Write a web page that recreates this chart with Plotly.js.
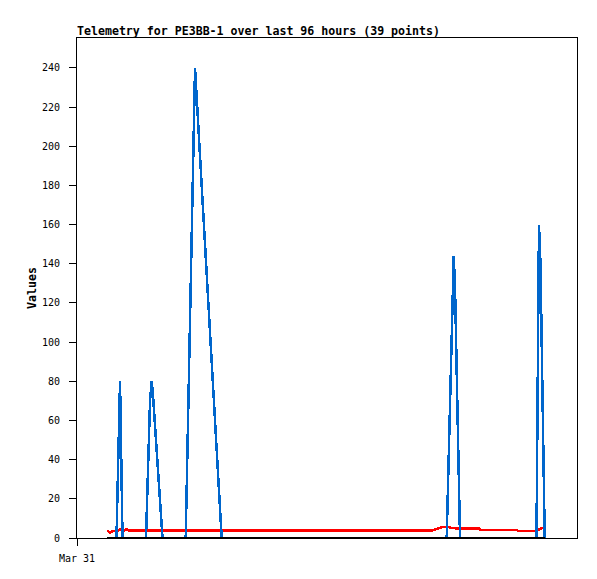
<!DOCTYPE html>
<html>
<head>
<meta charset="utf-8">
<script src="https://cdn.plot.ly/plotly-3.0.1.min.js"></script>
<style>
html, body { margin: 0; padding: 0; background: #fff; }
#chart { width: 597px; height: 579px; }
.scatterlayer path { shape-rendering: crispEdges; }
</style>
</head>
<body>
<div id="chart"></div>
<script>
// Hours since Mar 31 00:00
const blueHours = [5.76, 7.58, 8.26, 8.74, 13.25, 14.02, 14.34, 14.59, 16.42, 20.87, 22.66, 27.78, 70.98, 72.33, 72.58, 73.54, 88.22, 88.70, 88.99, 89.72, 89.80];
const blueValues = [0, 0, 80, 0, 0, 70, 80, 73, 0, 0, 240, 0, 0, 144, 128, 0, 0, 160, 140, 20, 0];

const redHours = [5.82, 6.34, 6.91, 7.87, 8.45, 9.02, 9.60, 9.98, 68.16, 68.93, 69.89, 71.04, 72.00, 77.18, 77.38, 84.48, 84.67, 88.32, 88.90, 89.47];
const redValues = [3.7, 2.7, 3.6, 3.8, 4.6, 3.8, 4.6, 3.8, 3.8, 4.6, 5.4, 5.8, 5.0, 4.8, 4.2, 4.2, 3.7, 3.7, 4.6, 5.4];

const blackHours = [5.76, 89.86];
const blackValues = [0, 0];

const xTickVals = [0];
const xTickText = ['Mar 31'];

const titleText = 'Telemetry for PE3BB-1 over last 96 hours (39 points)';
const yTitleText = 'Values';

const mono = 'DejaVu Sans Mono, Liberation Mono, monospace';

const traces = [
  { x: redHours, y: redValues, type: 'scatter', mode: 'lines', line: { color: '#ff0000', width: 2.5, shape: 'linear' }, hoverinfo: 'skip' },
  { x: blueHours, y: blueValues, type: 'scatter', mode: 'lines', line: { color: '#0066cc', width: 2.5, shape: 'linear' }, hoverinfo: 'skip' },
  { x: blackHours, y: blackValues, type: 'scatter', mode: 'lines', line: { color: '#000000', width: 3 }, hoverinfo: 'skip' }
];

const layout = {
  width: 597,
  height: 579,
  margin: { l: 77, r: 20, t: 38, b: 41, pad: 0 },
  paper_bgcolor: '#ffffff',
  plot_bgcolor: '#ffffff',
  showlegend: false,
  font: { family: mono, size: 10, color: '#000' },
  title: {
    text: '<b>' + titleText + '</b>',
    font: { family: mono, size: 11.6, color: '#000' },
    xref: 'paper', x: 0, xanchor: 'left',
    yref: 'container', y: 1 - 31 / 579, yanchor: 'middle'
  },
  xaxis: {
    range: [0, 96],
    tickmode: 'array',
    tickvals: xTickVals,
    ticktext: xTickText,
    ticks: 'outside', ticklen: 7, tickwidth: 1, tickcolor: '#000',
    ticklabelstandoff: 4,
    showline: true, linecolor: '#000', linewidth: 1, mirror: true,
    showgrid: false, zeroline: false,
    tickfont: { family: mono, size: 10, color: '#000' }
  },
  yaxis: {
    range: [0, 255.3],
    tick0: 0, dtick: 20,
    ticks: 'outside', ticklen: 7, tickwidth: 1, tickcolor: '#000',
    ticklabelstandoff: 7,
    showline: true, linecolor: '#000', linewidth: 1, mirror: true,
    showgrid: false, zeroline: false,
    tickfont: { family: mono, size: 10, color: '#000' }
  },
  annotations: [{
    text: '<b>' + yTitleText + '</b>',
    xref: 'paper', yref: 'paper',
    x: (32 - 77) / 500, y: 0.5,
    xanchor: 'center', yanchor: 'middle',
    textangle: -90, showarrow: false,
    font: { family: mono, size: 11.6, color: '#000' }
  }]
};

Plotly.newPlot('chart', traces, layout, { displayModeBar: false, staticPlot: true });
</script>
</body>
</html>
